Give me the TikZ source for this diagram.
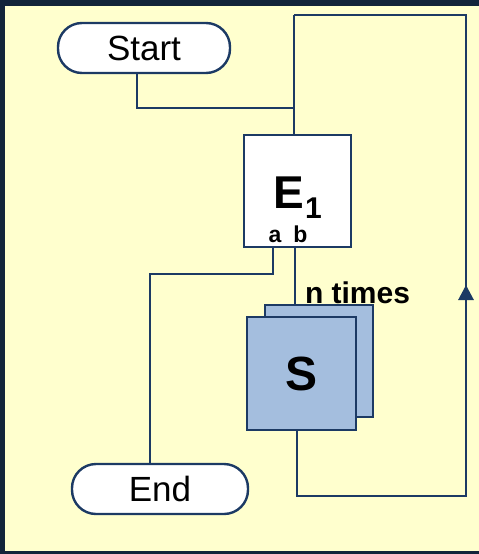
\documentclass[tikz,border=0pt]{standalone}
\usepackage{fontspec}
\setmainfont{Liberation Sans}
\usetikzlibrary{arrows.meta}

\definecolor{framecol}{RGB}{18,36,58}
\definecolor{paper}{RGB}{255,255,206}
\definecolor{wire}{RGB}{28,58,100}
\definecolor{stepfill}{RGB}{164,190,222}

\tikzset{
  wireline/.style={draw=wire, line width=2.9pt, line join=miter},
  terminal/.style={draw=wire, line width=2.4pt, fill=white, rounded corners=24pt,
    minimum height=50pt, inner sep=0pt, font=\fontsize{35}{35}\selectfont},
  evalbox/.style={draw=wire, line width=2.6pt, fill=white, minimum width=107pt,
    minimum height=112pt, inner sep=0pt},
  stepbox/.style={draw=wire, line width=2.4pt, fill=stepfill, minimum width=108pt,
    minimum height=112pt, inner sep=0pt},
  txt/.style={inner sep=0pt, outer sep=0pt},
}

\begin{document}
\begin{tikzpicture}[x=1pt, y=-1pt]
  \useasboundingbox (0,0) rectangle (479,554);
  % frame and paper
  \fill[framecol] (0,0) rectangle (479,554);
  \fill[paper] (5,6) rectangle (479,551);

  % nodes
  \node[terminal, minimum width=172pt] (start) at (144,48) {Start};
  \node[terminal, minimum width=176pt] (end) at (160,489) {End};
  \node[evalbox] (e1) at (297.5,191) {};
  \node[stepbox] (sback) at (319,361) {};
  \node[stepbox, minimum width=109pt, minimum height=113pt] (s) at (301.5,373.5)
    {\fontsize{48}{48}\selectfont\bfseries S};

  % labels of the evaluation box
  \node[txt, anchor=base west, font=\fontsize{46}{46}\selectfont\bfseries] (elbl) at (273.5,208) {E};
  \node[txt, anchor=base west, font=\fontsize{30}{30}\selectfont\bfseries] (esub) at (305,218) {1};
  \node[txt, anchor=base, font=\fontsize{23}{23}\selectfont\bfseries] (alb) at (275,242) {a};
  \node[txt, anchor=base, font=\fontsize{23}{23}\selectfont\bfseries] (blb) at (300.5,242) {b};
  \node[txt, anchor=base west, font=\fontsize{30}{30}\selectfont\bfseries] (ntimes) at (305,303) {n times};

  % helper points of the connectors
  \coordinate (startout) at (137,73);
  \coordinate (top) at (294,15);
  \coordinate (join) at (294,108);
  \coordinate (headin) at (294,135);
  \coordinate (loopR) at (466,15);
  \coordinate (loopB) at (466,496);
  \coordinate (tipbase) at (466,300);
  \coordinate (tip) at (466,285);
  \coordinate (aout) at (273,247);
  \coordinate (abend) at (150,274);
  \coordinate (endin) at (150,464);
  \coordinate (bout) at (295,247);
  \coordinate (bodyin) at (295,305);
  \coordinate (bodyout) at (297,430);

  % start into the loop head
  \draw[wireline] (startout) |- (join);
  \draw[wireline] (top) -- (headin);
  % exit a towards the end
  \draw[wireline] (aout) |- (abend) -- (endin);
  % exit b into the body
  \draw[wireline] (bout) -- (bodyin);
  % back edge from the body to the head
  \draw[wireline] (bodyout) |- (loopB) -- (loopR) -- (top);
  \draw[wire, line width=2.9pt, -{Triangle[width=15pt,length=15pt]}] (tipbase) -- (tip);
\end{tikzpicture}
\end{document}
